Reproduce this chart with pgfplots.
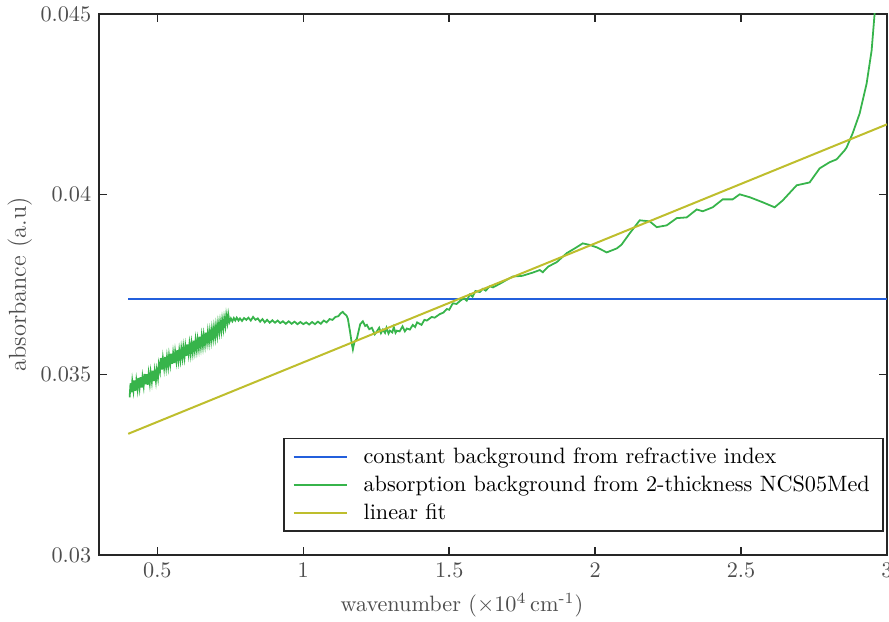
\documentclass[border=0pt]{standalone}
\usepackage{pgfplots}
\pgfplotsset{compat=1.18}
\usetikzlibrary{calc}
\definecolor{cblue}{RGB}{35,95,220}
\definecolor{cgreen}{RGB}{55,180,75}
\definecolor{cyel}{RGB}{190,190,45}
\definecolor{axgray}{RGB}{38,38,38}
\definecolor{txtgray}{RGB}{77,77,77}
\begin{document}
\begin{tikzpicture}
\begin{axis}[
 scale only axis, width=354.6pt, height=243.45pt,
 xmin=0.3, xmax=3, ymin=0.03, ymax=0.045,
 xtick={0.5,1,1.5,2,2.5,3}, xticklabels={0.5,1,1.5,2,2.5,3},
 ytick={0.03,0.035,0.04,0.045}, yticklabels={0.03,0.035,0.04,0.045},
 tick align=inside, major tick length=3.6pt,
 axis line style={axgray, line width=0.7pt},
 tick style={axgray, line width=0.7pt},
 ticklabel style={text=txtgray},
 label style={text=txtgray},
 xlabel={wavenumber ($\times 10^4$\,cm\textsuperscript{-1})},
 xlabel style={xshift=-14pt},
 ylabel={absorbance (a.u)},
 ylabel style={font=\fontsize{11}{13}\selectfont},
 ylabel shift=-3pt,
 legend style={at={(0.996,0.0425)}, anchor=south east, draw=axgray, line width=0.7pt, text=black, row sep=0pt, inner xsep=4pt},
 legend cell align=left,
 legend image code/.code={\draw[#1] (0cm,0cm) -- (0.85cm,0cm); \path (1.02cm,0cm);},
]
\addplot[cblue, line width=0.9pt] coordinates {(0.4,0.03709) (3,0.03709)};
\addlegendentry{constant background from refractive index}
\addplot[cgreen, line width=0.8pt] coordinates {
(0.405,0.03437) (0.408,0.03476) (0.411,0.03451) (0.414,0.03482) (0.418,0.03456)
(0.421,0.03484) (0.425,0.03455) (0.428,0.03484) (0.432,0.03460) (0.435,0.03491)
(0.439,0.03464) (0.442,0.03493) (0.446,0.03464) (0.449,0.03493) (0.453,0.03469)
(0.456,0.03502) (0.460,0.03473) (0.463,0.03501) (0.467,0.03472) (0.470,0.03502)
(0.474,0.03476) (0.477,0.03506) (0.481,0.03481) (0.484,0.03511) (0.488,0.03482)
(0.491,0.03510) (0.495,0.03483) (0.498,0.03512) (0.502,0.03491) (0.505,0.03528)
(0.509,0.03510) (0.512,0.03546) (0.516,0.03514) (0.519,0.03545) (0.523,0.03519)
(0.526,0.03549) (0.530,0.03521) (0.533,0.03549) (0.537,0.03523) (0.540,0.03553)
(0.544,0.03529) (0.547,0.03558) (0.551,0.03530) (0.554,0.03559) (0.558,0.03532)
(0.561,0.03563) (0.565,0.03538) (0.568,0.03568) (0.572,0.03540) (0.575,0.03567)
(0.579,0.03542) (0.582,0.03572) (0.586,0.03547) (0.589,0.03576) (0.593,0.03549)
(0.596,0.03578) (0.600,0.03552) (0.603,0.03584) (0.607,0.03558) (0.610,0.03585)
(0.614,0.03558) (0.617,0.03587) (0.621,0.03562) (0.624,0.03594) (0.628,0.03567)
(0.631,0.03596) (0.635,0.03569) (0.638,0.03597) (0.642,0.03573) (0.645,0.03605)
(0.649,0.03578) (0.652,0.03607) (0.656,0.03580) (0.659,0.03609) (0.663,0.03584)
(0.666,0.03616) (0.670,0.03590) (0.673,0.03618) (0.677,0.03591) (0.680,0.03620)
(0.684,0.03595) (0.687,0.03626) (0.691,0.03601) (0.694,0.03630) (0.698,0.03604)
(0.701,0.03635) (0.705,0.03610) (0.708,0.03642) (0.712,0.03618) (0.715,0.03646)
(0.719,0.03622) (0.722,0.03652) (0.726,0.03628) (0.729,0.03656) (0.733,0.03635)
(0.736,0.03665) (0.740,0.03644) (0.743,0.03667) (0.747,0.03646) (0.752,0.03656)
(0.757,0.03648) (0.762,0.03657) (0.767,0.03650) (0.772,0.03658) (0.778,0.03650)
(0.783,0.03656) (0.790,0.03649) (0.797,0.03657) (0.805,0.03652) (0.812,0.03658)
(0.820,0.03650) (0.828,0.03660) (0.836,0.03652) (0.844,0.03656) (0.852,0.03647)
(0.860,0.03654) (0.868,0.03645) (0.876,0.03652) (0.885,0.03644) (0.894,0.03651)
(0.903,0.03644) (0.912,0.03650) (0.921,0.03643) (0.930,0.03648) (0.940,0.03641)
(0.950,0.03648) (0.960,0.03641) (0.970,0.03647) (0.980,0.03640) (0.990,0.03646)
(1.000,0.03640) (1.010,0.03645) (1.020,0.03639) (1.030,0.03646) (1.040,0.03640)
(1.050,0.03647) (1.060,0.03641) (1.070,0.03650) (1.080,0.03645) (1.090,0.03654)
(1.100,0.03652) (1.110,0.03660) (1.120,0.03662) (1.128,0.03670) (1.135,0.03674)
(1.142,0.03668) (1.148,0.03664) (1.1527,0.03655) (1.1600,0.03620) (1.1664,0.03585)
(1.1699,0.03570) (1.1750,0.03590) (1.1836,0.03600) (1.1950,0.03640) (1.2041,0.03648)
(1.2120,0.03635) (1.2178,0.03638) (1.2260,0.03626) (1.2350,0.03630) (1.2450,0.03612)
(1.2521,0.03620) (1.2600,0.03630) (1.2660,0.03615) (1.2726,0.03625) (1.2800,0.03616)
(1.2850,0.03630) (1.2920,0.03614) (1.2966,0.03622) (1.3050,0.03617) (1.3100,0.03632)
(1.3160,0.03616) (1.3205,0.03622) (1.3300,0.03620) (1.3400,0.03634) (1.3480,0.03620)
(1.3550,0.03628) (1.3650,0.03625) (1.3753,0.03638) (1.3830,0.03632) (1.3900,0.03645)
(1.4050,0.03638) (1.4150,0.03652) (1.4233,0.03650) (1.4400,0.03660) (1.4500,0.03658)
(1.4678,0.03668) (1.4800,0.03672) (1.4918,0.03682) (1.5000,0.03680) (1.5123,0.03698)
(1.5250,0.03696) (1.5363,0.03704) (1.5500,0.03712) (1.5600,0.03705) (1.5705,0.03722)
(1.5800,0.03716) (1.5900,0.03732) (1.6048,0.03729) (1.6150,0.03738) (1.6250,0.03733)
(1.6390,0.03745) (1.6500,0.03742) (1.6733,0.03752) (1.6950,0.03762) (1.7178,0.03772)
(1.7500,0.03774) (1.7863,0.03783) (1.8103,0.03790) (1.8205,0.03784) (1.8400,0.03800)
(1.8685,0.03812) (1.9027,0.03837) (1.9300,0.03850) (1.9575,0.03864) (1.9800,0.03860)
(2.0055,0.03853) (2.0397,0.03839) (2.0740,0.03850) (2.0900,0.03860) (2.1185,0.03892)
(2.1527,0.03928) (2.1870,0.03925) (2.2110,0.03909) (2.2452,0.03914) (2.2795,0.03934)
(2.3137,0.03936) (2.3479,0.03958) (2.3685,0.03953) (2.4027,0.03964) (2.4370,0.03986)
(2.4712,0.03986) (2.4952,0.04000) (2.5295,0.03992) (2.5740,0.03978) (2.6151,0.03964)
(2.6425,0.03983) (2.6904,0.04025) (2.7349,0.04033) (2.7692,0.04072) (2.8034,0.04089)
(2.8274,0.04097) (2.8548,0.04122) (2.8616,0.04130) (2.8822,0.04169) (2.9062,0.04224)
(2.9301,0.04307) (2.9473,0.04399) (2.9575,0.04501) (2.9650,0.04600)
};
\addlegendentry{absorption background from 2-thickness NCS05Med\hspace{7.5pt}}
\addplot[cyel, line width=0.9pt] coordinates {(0.4,0.03336) (3,0.04194)};
\addlegendentry{linear fit}
\end{axis}
\pgfresetboundingbox
\path[use as bounding box] ($(current axis.south west)+(-44.55pt,-30.15pt)$) rectangle ($(current axis.north east)+(0.9pt,6.3pt)$);
\end{tikzpicture}
\end{document}
